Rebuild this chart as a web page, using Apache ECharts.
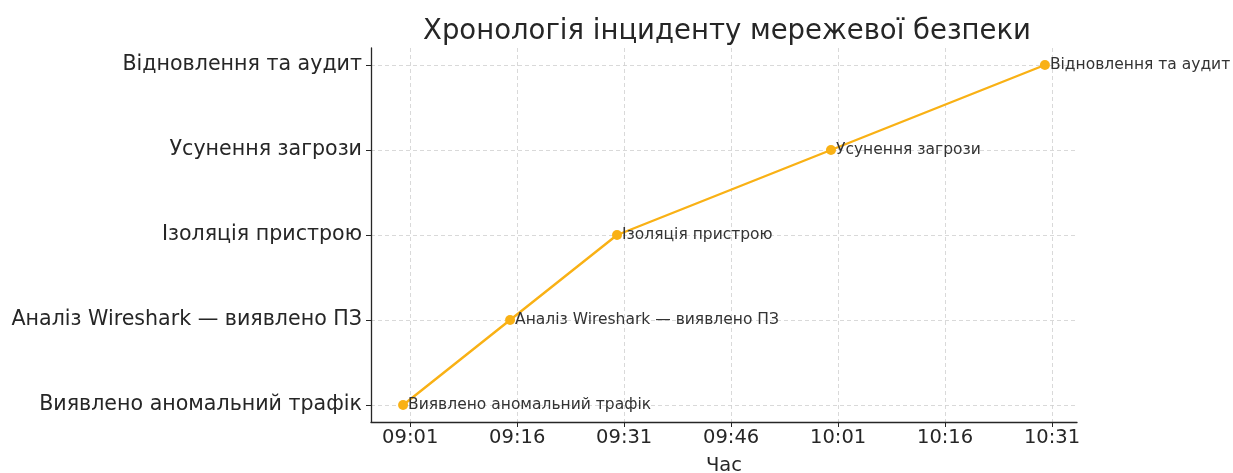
<!DOCTYPE html>
<html>
<head>
<meta charset="utf-8">
<script src="https://cdn.jsdelivr.net/npm/echarts@6/dist/echarts.min.js"></script>
<style>
  html, body { margin: 0; padding: 0; background: #fff; }
  #chart { width: 1233px; height: 473px; }
</style>
</head>
<body>
<div id="chart"></div>
<script>
// Incident stages (bottom to top) and the time each stage happened
const stages = [
  'Виявлено аномальний трафік',
  'Аналіз Wireshark — виявлено ПЗ',
  'Ізоляція пристрою',
  'Усунення загрози',
  'Відновлення та аудит'
];
const eventTimes = ['09:00', '09:15', '09:30', '10:00', '10:30'];
const tickTimes = ['09:01', '09:16', '09:31', '09:46', '10:01', '10:16', '10:31'];

const toMin = t => { const [h, m] = t.split(':').map(Number); return h * 60 + m; };
const fmt = v => {
  const h = Math.floor(v / 60), m = Math.round(v % 60);
  return String(h).padStart(2, '0') + ':' + String(m).padStart(2, '0');
};

const points = eventTimes.map((t, i) => [toMin(t), i]);
const tickVals = tickTimes.map(toMin);
const stageIdx = stages.map((_, i) => i);

// 5% padding on each side of the data range
const tMin = toMin(eventTimes[0]), tMax = toMin(eventTimes[eventTimes.length - 1]);
const pad = (tMax - tMin) * 0.05;

const font = 'DejaVu Sans';
const ink = '#262626';
const gridLine = { show: true, lineStyle: { color: '#cfcfcf', type: [4, 3], width: 0.8 } };

const chart = echarts.init(document.getElementById('chart'), null, { renderer: 'canvas' });
chart.setOption({
  animation: false,
  backgroundColor: '#fff',
  title: {
    text: 'Хронологія інциденту мережевої безпеки',
    left: 722, top: 13, textAlign: 'center',
    textStyle: { fontFamily: font, fontSize: 27.5, fontWeight: 'normal', color: ink }
  },
  grid: { left: 371, right: 156, top: 48, bottom: 51, outerBoundsMode: 'none', containLabel: false },
  xAxis: {
    type: 'value',
    min: tMin - pad,
    max: tMax + pad,
    name: 'Час', nameLocation: 'middle', nameGap: 34,
    nameTextStyle: { fontFamily: font, fontSize: 19.5, color: ink },
    axisLine: { show: true, onZero: false, lineStyle: { color: ink, width: 1.3 } },
    axisTick: { show: true, customValues: tickVals, length: 5, lineStyle: { color: ink } },
    axisLabel: { customValues: tickVals, formatter: fmt, fontFamily: font, fontSize: 19.5, color: ink, margin: 6 },
    splitLine: gridLine
  },
  yAxis: {
    type: 'value',
    min: -0.2, max: 4.2,
    axisLine: { show: true, onZero: false, lineStyle: { color: ink, width: 1.3 } },
    axisTick: { show: true, customValues: stageIdx, length: 5, lineStyle: { color: ink } },
    axisLabel: { customValues: stageIdx, formatter: v => stages[v] || '', fontFamily: font, fontSize: 20.6, color: ink, margin: 9 },
    splitLine: gridLine
  },
  series: [{
    type: 'line',
    data: points,
    symbol: 'circle', symbolSize: 10,
    lineStyle: { color: '#F9B115', width: 2.4 },
    itemStyle: { color: '#F9B115' },
    label: {
      show: true, position: 'right', distance: 0,
      formatter: p => stages[p.data[1]],
      fontFamily: font, fontSize: 15.5, color: '#333'
    }
  }]
});
</script>
</body>
</html>
